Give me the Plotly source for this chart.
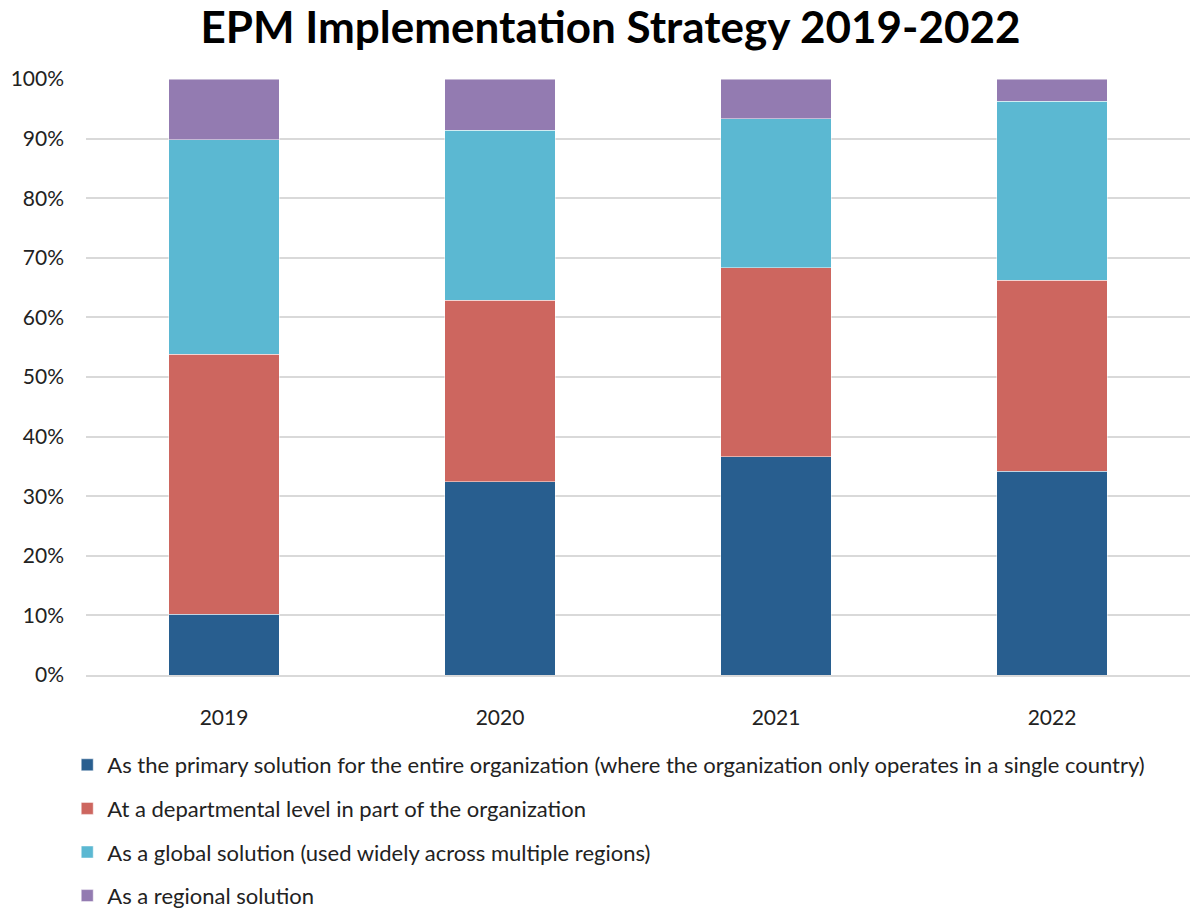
import plotly.graph_objects as go

# EPM implementation strategy shares by survey year (percent of respondents)
years = ["2019", "2020", "2021", "2022"]
primary = [10.2, 32.4, 36.6, 34.2]
departmental = [43.6, 30.5, 31.7, 32.0]
global_sol = [36.0, 28.5, 25.0, 30.1]
regional = [10.2, 8.6, 6.7, 3.7]

series_names = [
    "As the primary solution for the entire organization (where the organization only operates in a single country)",
    "At a departmental level in part of the organization",
    "As a global solution (used widely across multiple regions)",
    "As a regional solution",
]
series_values = [primary, departmental, global_sol, regional]
series_colors = ["#285E8F", "#CD665F", "#5BB8D2", "#937BB1"]

FONT = "Lato"

fig = go.Figure()
for i, (name, vals, col) in enumerate(zip(series_names, series_values, series_colors)):
    fig.add_trace(go.Bar(
        x=years,
        y=[v / 100 for v in vals],
        name=name,
        legendgroup=f"g{i}",
        marker=dict(color=col, line=dict(color="rgba(255,255,255,0.6)", width=0.8)),
        hoverinfo="x+y+name",
    ))

fig.update_layout(
    barmode="stack",
    bargap=0.6,
    width=1197,
    height=909,
    margin=dict(l=86, r=7, t=79, b=234, autoexpand=False),
    paper_bgcolor="white",
    plot_bgcolor="white",
    font=dict(family=FONT, size=21, color="#222222"),
    title=dict(
        text="<b>EPM Implementation Strategy 2019-2022</b>",
        x=0.51,
        xanchor="center",
        y=0.97,
        yanchor="middle",
        font=dict(family=FONT, size=44, color="#000000"),
    ),
    legend=dict(
        orientation="v",
        x=-0.017,
        xanchor="left",
        yref="container",
        y=1 - 744 / 909,
        yanchor="top",
        traceorder="grouped",
        tracegroupgap=12,
        font=dict(family=FONT, size=22, color="#222222"),
        itemwidth=30,
    ),
    showlegend=True,
)

fig.update_yaxes(
    range=[0, 1],
    tickvals=[i / 10 for i in range(11)],
    tickformat=".0%",
    showgrid=True,
    gridcolor="#D9D9D9",
    gridwidth=1.5,
    zeroline=False,
    showline=False,
    ticks="",
    ticklabelstandoff=21,
    tickfont=dict(family=FONT, size=21, color="#222222"),
    fixedrange=True,
)
fig.update_xaxes(
    showline=True,
    linecolor="#D9D9D9",
    linewidth=1.5,
    ticks="",
    ticklabelstandoff=23,
    tickfont=dict(family=FONT, size=21, color="#222222"),
    fixedrange=True,
)

fig.write_html("out.html")
